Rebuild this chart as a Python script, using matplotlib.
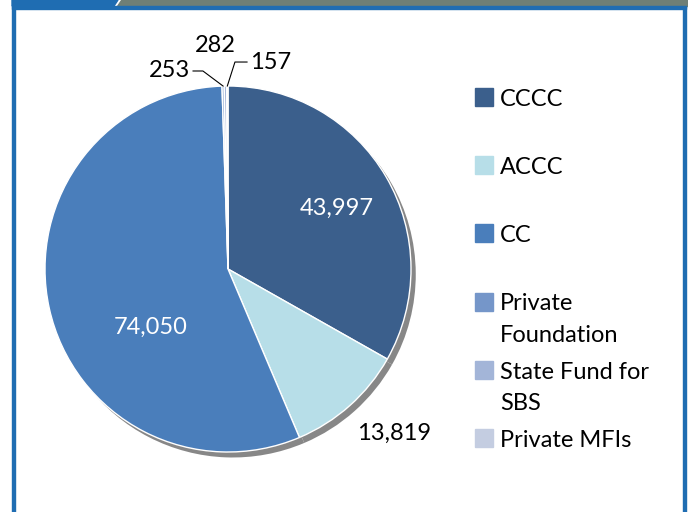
import matplotlib.pyplot as plt
import numpy as np
from matplotlib.patches import Rectangle, Polygon

# Data
categories = ['CCCC', 'ACCC', 'CC', 'Private\nFoundation', 'State Fund for\nSBS', 'Private MFIs']
values = [43997, 13819, 74050, 253, 282, 157]
value_labels = ['43,997', '13,819', '74,050', '253', '282', '157']
colors = ['#3B5F8C', '#B7DEE8', '#4A7EBB', '#7596C9', '#A3B5D8', '#C4CDE1']

# label positions (data units, pie radius = 1)
label_pos = [(0.596, 0.333), (0.907, -0.896), (-0.421, -0.317),
             (-0.208, 1.082), (-0.071, 1.224), (0.12, 1.131)]
label_ha = ['center', 'center', 'center', 'right', 'center', 'left']
label_color = ['white', 'black', 'white', 'black', 'black', 'black']

W, H = 688, 512
plt.rcParams['font.family'] = ['Lato', 'DejaVu Sans']
fig = plt.figure(figsize=(W / 100, H / 100), dpi=100)


def fx(x):
    return x / W


def fy(y):
    return 1 - y / H


# frame around the chart
blue = '#1F6DB2'
tf = fig.transFigure
fig.add_artist(Rectangle((fx(12), 0), fx(3), fy(5), color=blue, transform=tf))
fig.add_artist(Rectangle((fx(683), 0), fx(3), fy(5), color=blue, transform=tf))
fig.add_artist(Polygon([(fx(12), 1), (fx(118), 1), (fx(114), fy(6)), (fx(12), fy(6))],
                       closed=True, color=blue, transform=tf))
fig.add_artist(Polygon([(fx(121), 1), (fx(688), 1), (fx(688), fy(6)), (fx(117), fy(6))],
                       closed=True, color='#6E7F76', transform=tf))
fig.add_artist(Rectangle((fx(12), fy(9)), fx(674), fy(6) - fy(9), color=blue, transform=tf))

# pie axes
ax = fig.add_axes([fx(45), fy(452), 366 / W, 366 / H])

# shadow
ax.pie(values, colors=['#878787'] * len(values), startangle=90, counterclock=False,
       center=(0.026, -0.03), wedgeprops=dict(linewidth=0))
wedges, _ = ax.pie(values, colors=colors, startangle=90, counterclock=False,
                   wedgeprops=dict(edgecolor='white', linewidth=1))
ax.set_xlim(-1, 1)
ax.set_ylim(-1, 1)
ax.set_aspect('equal')
ax.axis('off')

for i, lab in enumerate(value_labels):
    ax.text(label_pos[i][0], label_pos[i][1], lab, ha=label_ha[i], va='center',
            fontsize=17, color=label_color[i], clip_on=False)


# leader lines for the tiny slices
def anchor(w):
    a = np.deg2rad((w.theta1 + w.theta2) / 2)
    return np.cos(a), np.sin(a)


ax_, ay_ = anchor(wedges[3])
ax.plot([-0.191, -0.137, ax_], [1.082, 1.082, ay_], color='black', lw=0.8, clip_on=False)
ax_, ay_ = anchor(wedges[5])
ax.plot([0.104, 0.038, ax_], [1.131, 1.131, ay_], color='black', lw=0.8, clip_on=False)

# legend
leg_y = [105.5, 174, 241.5, 310.5, 379, 447]
for i, cat in enumerate(categories):
    fig.add_artist(Rectangle((fx(475), fy(leg_y[i])), fx(18), fy(leg_y[i] - 18) - fy(leg_y[i]),
                             color=colors[i], transform=tf))
    for j, line in enumerate(cat.split('\n')):
        fig.text(fx(500), fy(leg_y[i] + 31.5 * j), line, ha='left', va='baseline',
                 fontsize=17)

fig.savefig('out.png', dpi=100)
